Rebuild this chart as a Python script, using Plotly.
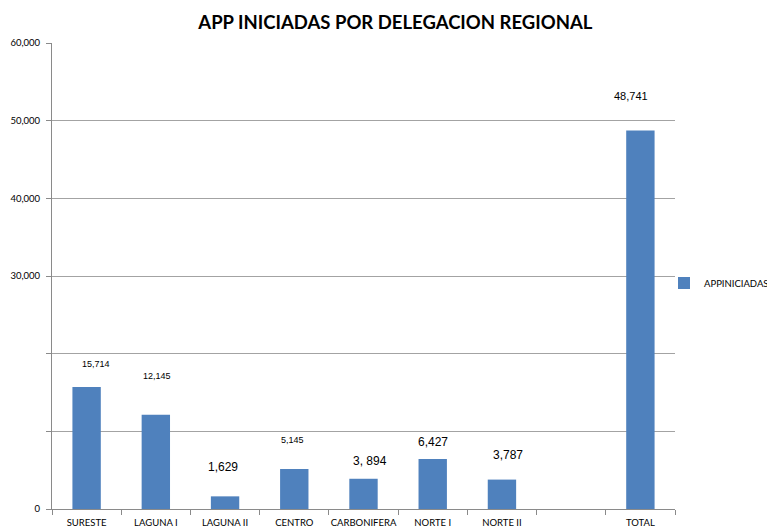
import plotly.graph_objects as go

categories = ["SURESTE", "LAGUNA I", "LAGUNA II", "CENTRO", "CARBONIFERA",
              "NORTE I", "NORTE II", " ", "TOTAL"]
values = [15714, 12145, 1629, 5145, 3894, 6427, 3787, None, 48741]
value_labels = ["15,714", "12,145", "1,629", "5,145", "3, 894",
                "6,427", "3,787", "", "48,741"]
series_name = "APPINICIADAS"
title_text = "APP INICIADAS POR DELEGACION REGIONAL"
y_tickvals = [0, 10000, 20000, 30000, 40000, 50000, 60000]
y_ticktext = ["0", "", "", "30,000", "40,000", "50,000", "60,000"]

# label styling (pixel offsets / font sizes per label)
label_yshift = [23, 39, 29, 29, 18, 17, 25, 0, 34]
label_xshift = [9, 1, -2, -2, 6, 0, 6, 0, -9]
label_size = [9, 9, 12, 9, 12, 12, 12, 12, 11]

BAR = "#4F81BD"
GRID = "#a3a3a3"
AXIS = "#8a8a8a"
AX_FONT = "Lato, 'Open Sans', sans-serif"

# the page body has an 8px default margin: size the figure to fill the window
W, H, OFF = 775, 531, 8

fig = go.Figure()
fig.add_trace(go.Bar(
    x=categories, y=values, name=series_name,
    marker=dict(color=BAR, line=dict(width=0)),
    showlegend=True,
))

for c, v, t, ys, xs, fs in zip(categories, values, value_labels,
                               label_yshift, label_xshift, label_size):
    if v is None:
        continue
    fig.add_annotation(x=c, y=v, text=t, showarrow=False,
                       xref="x", yref="y", yanchor="middle",
                       yshift=ys, xshift=xs,
                       font=dict(family="Liberation Sans, Arial, sans-serif",
                                 size=fs, color="#000000"))

fig.update_layout(
    width=W - OFF, height=H - OFF,
    margin=dict(l=52 - OFF, r=100, t=43 - OFF, b=22, autoexpand=False),
    paper_bgcolor="white", plot_bgcolor="white",
    bargap=0.59,
    title=dict(text="<b>" + title_text + "</b>", x=0.505, xref="container",
               xanchor="center", y=0.972, yanchor="middle",
               font=dict(family=AX_FONT, size=18.5, color="#000000")),
    legend=dict(x=1.0 + (704 - 40 - 675) / 623.0, y=0.485,
                xanchor="left", yanchor="middle",
                font=dict(family=AX_FONT, size=9.5, color="#000000"),
                itemwidth=30, bgcolor="rgba(0,0,0,0)"),
    xaxis=dict(type="category", categoryorder="array", categoryarray=categories,
               showline=True, linecolor=AXIS, linewidth=1, tickangle=0,
               automargin=False, ticklabelstandoff=5,
               ticks="outside", tickson="boundaries", ticklen=5, tickcolor=AXIS,
               tickfont=dict(family=AX_FONT, size=9.5, color="#000000"),
               showgrid=False),
    yaxis=dict(range=[0, 60000], tickvals=y_tickvals, ticktext=y_ticktext,
               showline=True, linecolor=AXIS, linewidth=1, automargin=False,
               ticks="outside", ticklen=5, tickcolor=AXIS, ticklabelstandoff=4,
               showgrid=True, gridcolor=GRID, gridwidth=1,
               zeroline=False,
               tickfont=dict(family=AX_FONT, size=9.5, color="#000000")),
)

fig.write_html("out.html")
